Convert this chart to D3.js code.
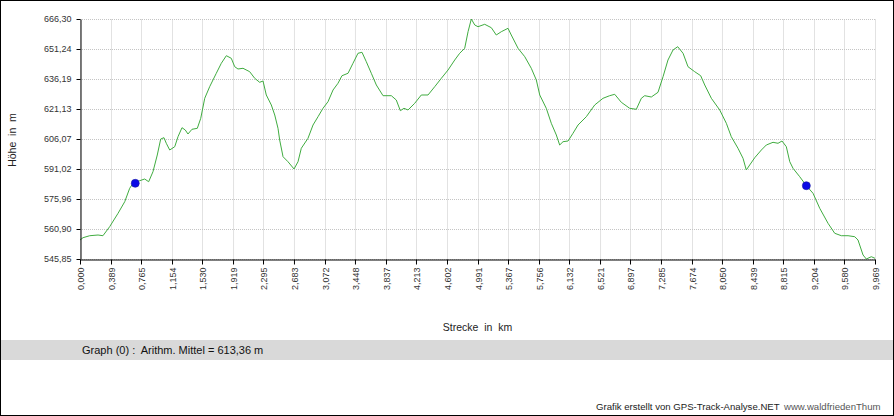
<!DOCTYPE html>
<html>
<head>
<meta charset="utf-8">
<script src="https://cdn.jsdelivr.net/npm/d3@7"></script>
<style>
  html, body { margin: 0; padding: 0; background: #fff; }
  svg { display: block; font-family: "Liberation Sans", Arial, sans-serif; }
  text { white-space: pre; }
</style>
</head>
<body>
<svg id="chart" width="894" height="416"></svg>
<script>
// ---- Data ----
const distanceKm = [
  0.000, 0.038, 0.122, 0.226, 0.288, 0.372, 0.477, 0.561, 0.623, 0.665,
  0.749, 0.811, 0.861, 0.915, 0.969, 1.012, 1.053, 1.082, 1.125, 1.188,
  1.229, 1.279, 1.320, 1.354, 1.404, 1.471, 1.514, 1.564, 1.626, 1.709,
  1.772, 1.835, 1.897, 1.940, 1.981, 2.044, 2.128, 2.191, 2.253, 2.295,
  2.336, 2.399, 2.442, 2.483, 2.504, 2.546, 2.608, 2.684, 2.734, 2.775,
  2.859, 2.922, 2.985, 3.047, 3.110, 3.173, 3.235, 3.285, 3.361, 3.423,
  3.486, 3.536, 3.590, 3.653, 3.716, 3.800, 3.904, 3.966, 4.017, 4.063,
  4.113, 4.197, 4.280, 4.364, 4.448, 4.531, 4.615, 4.699, 4.761, 4.824,
  4.866, 4.907, 4.950, 4.991, 5.075, 5.158, 5.220, 5.283, 5.367, 5.408,
  5.493, 5.577, 5.659, 5.722, 5.765, 5.847, 5.910, 5.973, 6.015, 6.057,
  6.120, 6.182, 6.245, 6.349, 6.454, 6.558, 6.642, 6.705, 6.788, 6.893,
  6.976, 7.039, 7.081, 7.164, 7.248, 7.311, 7.373, 7.436, 7.495, 7.562,
  7.624, 7.708, 7.783, 7.834, 7.917, 8.022, 8.105, 8.167, 8.251, 8.314,
  8.355, 8.398, 8.461, 8.544, 8.606, 8.690, 8.753, 8.803, 8.857, 8.900,
  8.941, 9.025, 9.108, 9.192, 9.276, 9.380, 9.464, 9.547, 9.631, 9.715,
  9.756, 9.819, 9.860, 9.923, 9.969
];
const elevationM = [
  555.38, 556.54, 557.54, 557.89, 557.54, 562.06, 568.78, 574.61, 581.33, 583.84,
  585.15, 586.00, 584.64, 589.66, 598.04, 606.07, 606.73, 603.92, 600.55, 602.21,
  607.23, 611.75, 610.59, 608.58, 610.94, 611.44, 616.46, 626.50, 632.32, 639.05,
  644.07, 647.88, 646.58, 642.36, 641.21, 641.56, 639.85, 636.54, 634.53, 635.18,
  628.16, 623.14, 618.12, 611.44, 605.57, 597.19, 594.68, 591.02, 594.68, 601.41,
  606.43, 613.10, 617.27, 621.48, 624.79, 630.67, 634.03, 637.84, 639.05, 644.07,
  649.09, 649.59, 644.87, 639.05, 633.18, 627.81, 627.81, 625.65, 620.28, 621.48,
  620.63, 623.99, 628.16, 628.16, 632.32, 636.54, 640.70, 645.72, 649.09, 651.59,
  659.93, 666.30, 663.29, 662.44, 663.64, 661.93, 658.27, 659.93, 661.63, 658.27,
  651.59, 647.38, 641.56, 635.69, 628.16, 621.48, 613.95, 608.08, 603.06, 604.72,
  605.07, 608.94, 613.10, 617.27, 623.14, 626.50, 627.81, 628.51, 624.49, 621.48,
  620.98, 626.50, 627.81, 627.15, 629.51, 637.34, 645.72, 650.74, 652.40, 649.09,
  642.36, 639.85, 637.84, 633.18, 626.50, 620.63, 613.95, 607.23, 601.41, 596.39,
  590.52, 593.03, 596.69, 600.55, 603.06, 604.42, 603.92, 605.07, 602.21, 594.68,
  591.37, 587.15, 582.64, 578.82, 571.29, 563.77, 558.75, 557.54, 557.54, 557.04,
  555.38, 547.86, 545.85, 547.00, 546.20
];
const markerKm = [0.693, 9.108];
const markerM = [583.84, 582.64];
const xTickValues = [0.000, 0.389, 0.765, 1.154, 1.530, 1.919, 2.295, 2.683, 3.072, 3.448,
  3.837, 4.213, 4.602, 4.991, 5.367, 5.756, 6.132, 6.521, 6.897, 7.285, 7.674, 8.050,
  8.439, 8.815, 9.204, 9.580, 9.969];
const yTickValues = [545.85, 560.90, 575.96, 591.02, 606.07, 621.13, 636.19, 651.24, 666.30];
const xTitle = "Strecke  in  km";
const yTitle = "Höhe  in  m";
const legendText = "Graph (0) :  Arithm. Mittel = 613,36 m";
const footerText = "Grafik erstellt von GPS-Track-Analyse.NET";
const footerSite = "www.waldfriedenThum";

// ---- Chart ----
(function () {
const svg = d3.select("#chart");
const W = 894, H = 416;
const pL = 80, pR = 875, pT = 19, pB = 259;

const x = d3.scaleLinear().domain([0, 9.969]).range([pL, pR]);
const y = d3.scaleLinear().domain([545.85, 666.30]).range([pB, pT]);

const loc = d3.formatLocale({decimal: ",", thousands: ".", grouping: [3], currency: ["", "€"]});
const fx = loc.format(".3f"), fy = loc.format(".2f");

svg.append("rect").attr("x", 0).attr("y", 0).attr("width", W).attr("height", H).attr("fill", "#fff");

// grid
const grid = svg.append("g");
grid.selectAll(".vg").data(xTickValues).enter().append("line")
  .attr("x1", d => x(d) + 0.5).attr("x2", d => x(d) + 0.5)
  .attr("y1", pT).attr("y2", pB)
  .attr("stroke", "#e2e2e2").attr("stroke-width", 1);
grid.selectAll(".hg").data(yTickValues).enter().append("line")
  .attr("x1", pL).attr("x2", pR)
  .attr("y1", d => Math.round(y(d)) + 0.5).attr("y2", d => Math.round(y(d)) + 0.5)
  .attr("stroke", "#c4c4c4").attr("stroke-width", 1).attr("stroke-dasharray", "1,1");

// line
const line = d3.line().x((d, i) => x(distanceKm[i])).y(d => y(d));
svg.append("path").datum(elevationM)
  .attr("d", line)
  .attr("fill", "none").attr("stroke", "#40ac40").attr("stroke-width", 1);

// markers
svg.selectAll(".mk").data(markerKm).enter().append("circle")
  .attr("cx", d => x(d)).attr("cy", (d, i) => y(markerM[i]))
  .attr("r", 4).attr("fill", "#0a0ae6").attr("stroke", "#1a1aa0").attr("stroke-width", 0.6);

// axes
const yAxis = d3.axisLeft(y).tickValues(yTickValues).tickFormat(fy).tickSize(4).tickPadding(5).tickSizeOuter(0);
const gy = svg.append("g").attr("transform", `translate(${pL + 0.5},0)`).call(yAxis);
gy.selectAll("text").attr("font-size", 9).attr("fill", "#333").attr("font-family", "Liberation Sans, Arial, sans-serif");
gy.selectAll("line, path").attr("stroke", "#000");

const xAxis = d3.axisBottom(x).tickValues(xTickValues).tickFormat(fx).tickSize(5).tickSizeOuter(0);
const gx = svg.append("g").attr("transform", `translate(0,${pB + 0.5})`).call(xAxis);
gx.selectAll("line, path").attr("stroke", "#000");
gx.selectAll("text")
  .attr("font-size", 9).attr("fill", "#333").attr("font-family", "Liberation Sans, Arial, sans-serif")
  .attr("text-anchor", "end")
  .attr("transform", "rotate(-90)")
  .attr("x", -8).attr("y", 0).attr("dy", "0.35em");

// titles
svg.append("text").attr("transform", "translate(16,140) rotate(-90)")
  .attr("text-anchor", "middle").attr("font-size", 10.5).attr("fill", "#222").text(yTitle);
svg.append("text").attr("x", (pL + pR) / 2).attr("y", 331)
  .attr("text-anchor", "middle").attr("font-size", 10.5).attr("fill", "#222").text(xTitle);

// legend band
svg.append("rect").attr("x", 1).attr("y", 340).attr("width", W - 2).attr("height", 20).attr("fill", "#d9d9d9");
svg.append("text").attr("x", 82).attr("y", 354).attr("font-size", 11).attr("fill", "#111").text(legendText);

// footer
svg.append("text").attr("x", 596).attr("y", 410).attr("font-size", 9.6).attr("fill", "#222").text(footerText);
svg.append("text").attr("x", 784).attr("y", 410).attr("font-size", 9.6).attr("fill", "#555").text(footerSite);

// frame
svg.append("rect").attr("x", 0.5).attr("y", 0.5).attr("width", W - 1).attr("height", H - 1)
  .attr("fill", "none").attr("stroke", "#000").attr("stroke-width", 1);
})();
</script>
</body>
</html>
